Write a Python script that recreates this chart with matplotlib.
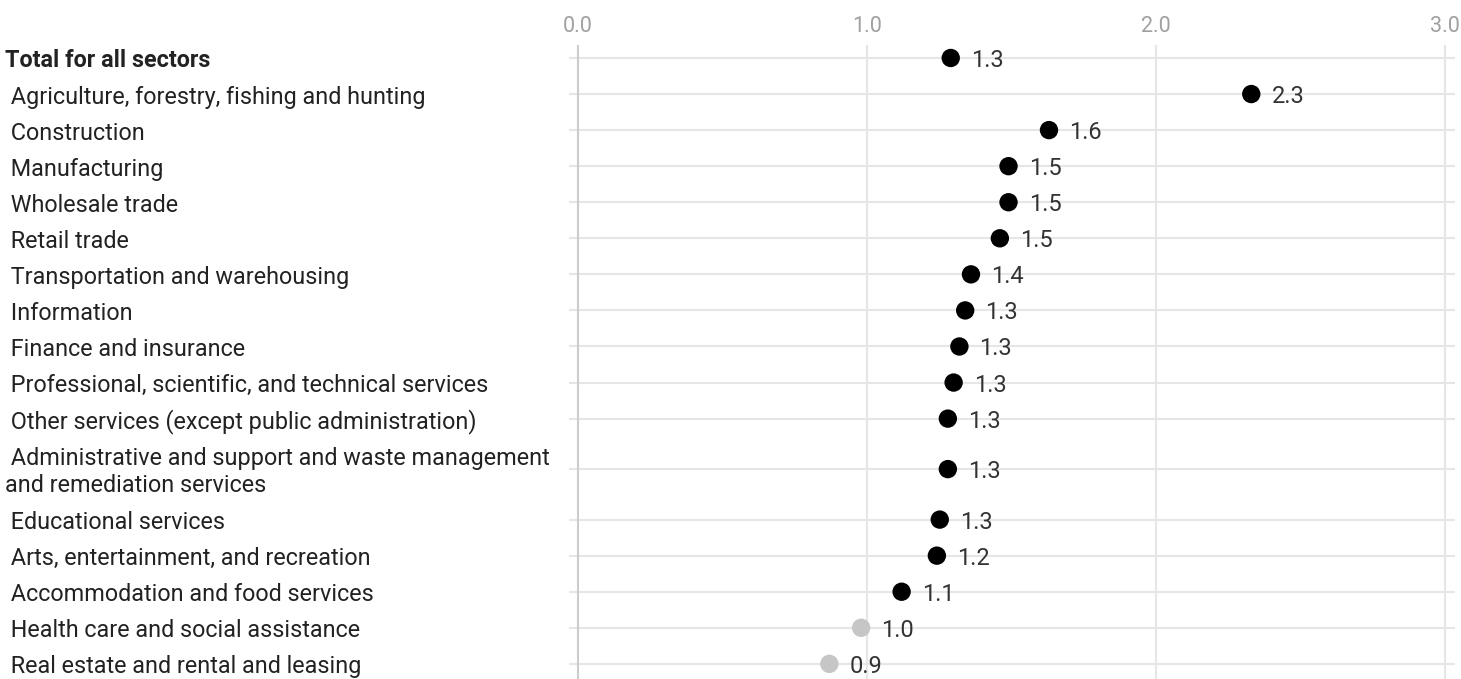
import matplotlib.pyplot as plt

plt.rcParams['font.family'] = ['Roboto', 'DejaVu Sans']

sectors = [
    'Total for all sectors',
    'Agriculture, forestry, fishing and hunting',
    'Construction',
    'Manufacturing',
    'Wholesale trade',
    'Retail trade',
    'Transportation and warehousing',
    'Information',
    'Finance and insurance',
    'Professional, scientific, and technical services',
    'Other services (except public administration)',
    'Administrative and support and waste management\nand remediation services',
    'Educational services',
    'Arts, entertainment, and recreation',
    'Accommodation and food services',
    'Health care and social assistance',
    'Real estate and rental and leasing',
]
values = [1.29, 2.33, 1.63, 1.49, 1.49, 1.46, 1.36, 1.34, 1.32, 1.30, 1.28,
          1.28, 1.252, 1.242, 1.12, 0.98, 0.87]
xticks = [0.0, 1.0, 2.0, 3.0]

# row positions: wrapped labels take a bit more room
ypos = []
y = 0.0
for i, s in enumerate(sectors):
    extra = 0.4 * s.count('\n')
    if i > 0:
        y += 1 + extra
    ypos.append(y)
    y += extra

W, H = 1461, 679
fig = plt.figure(figsize=(W / 100, H / 100), dpi=100)
ax = fig.add_axes([569 / W, 0, (1455 - 569) / W, 1 - 45 / H])
ax.set_xlim(-0.031, 3.035)
ax.set_ylim(ypos[-1] + 0.42, -0.36)

for s in ax.spines.values():
    s.set_visible(False)
ax.set_xticks([])
ax.set_yticks([])

for yy in ypos:
    ax.axhline(yy, color='#e6e6e6', lw=1.5, zorder=0)
for t in xticks:
    ax.axvline(t, color='#cccccc' if t == 0 else '#e6e6e6', lw=1.5, zorder=0)
    fig.text((578 + t * 289) / W, 1 - 24 / H, f'{t:.1f}', ha='center', va='center_baseline',
             fontsize=15.5, color='#a0a0a0')

colors = ['#c6c6c6' if v < 1 else '#000000' for v in values]
ax.scatter(values, ypos, s=175, c=colors, zorder=3, linewidths=0)
for v, yy in zip(values, ypos):
    ax.annotate(f'{v:.1f}', (v, yy), xytext=(14.5, 0), textcoords='offset points',
                va='center_baseline', ha='left', fontsize=17, color='#333333')

for i, (s, yy) in enumerate(zip(sectors, ypos)):
    ty = ax.transData.transform((0, yy))[1] / H
    if i == 0:
        fig.text(5 / W, ty, s, ha='left', va='center_baseline', fontsize=16.8,
                 fontweight='bold', color='#222222')
    else:
        lines = s.split('\n')
        txt = '\n'.join([' ' + lines[0]] + lines[1:])
        fig.text(5 / W, ty - 3 / H, txt, ha='left', va='center', fontsize=16.8,
                 color='#222222', linespacing=1.2)

fig.savefig('out.png', dpi=100)
